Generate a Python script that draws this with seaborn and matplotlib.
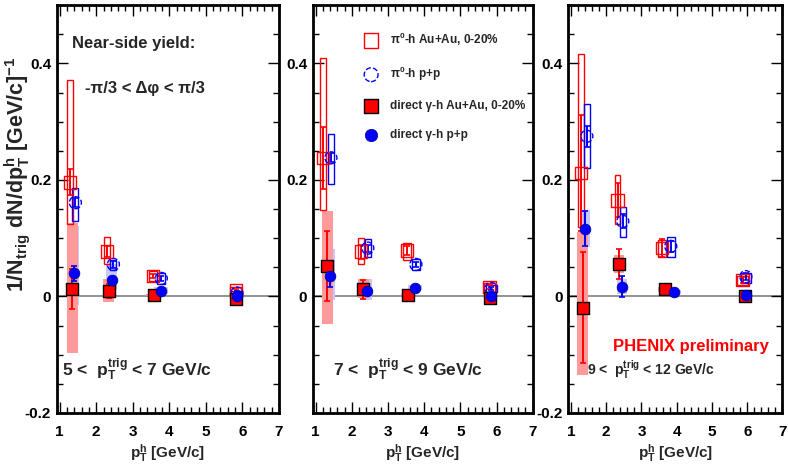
import numpy as np
import pandas as pd
import seaborn as sns
import matplotlib.pyplot as plt
from matplotlib.patches import Rectangle
from matplotlib.ticker import MultipleLocator

# pT trigger bins (one panel each)
trig_labels = [r'5 <  p$_T^{trig}$ < 7 GeV/c',
               r'7 <  p$_T^{trig}$ < 9 GeV/c',
               r'9 <  p$_T^{trig}$ < 12 GeV/c']

# pi0-h Au+Au, 0-20%
pi0_auau_x = [[1.28, 2.29, 3.55, 5.82], [1.20, 2.25, 3.53, 5.81], [1.28, 2.32, 3.59, 5.87]]
pi0_auau_y = [[0.196, 0.077, 0.035, 0.010], [0.238, 0.077, 0.079, 0.016], [0.212, 0.165, 0.083, 0.028]]
pi0_auau_err = [[0.022, 0.010, 0.004, 0.003], [0.053, 0.012, 0.008, 0.003], [0.100, 0.029, 0.015, 0.005]]
pi0_auau_sys_lo = [[0.125, 0.055, 0.026, 0.002], [0.148, 0.055, 0.062, 0.006], [0.119, 0.124, 0.067, 0.020]]
pi0_auau_sys_hi = [[0.371, 0.102, 0.044, 0.016], [0.410, 0.101, 0.092, 0.024], [0.416, 0.208, 0.097, 0.036]]

# pi0-h p+p
pi0_pp_x = [[1.43, 2.47, 3.78, 5.85], [1.42, 2.44, 3.77, 5.85], [1.45, 2.47, 3.83, 5.96]]
pi0_pp_y = [[0.161, 0.055, 0.031, 0.006], [0.238, 0.083, 0.055, 0.014], [0.275, 0.129, 0.086, 0.034]]
pi0_pp_err = [[0.008, 0.006, 0.004, 0.003], [0.008, 0.006, 0.005, 0.003], [0.018, 0.012, 0.010, 0.006]]
pi0_pp_sys_lo = [[0.129, 0.045, 0.022, 0.002], [0.193, 0.067, 0.045, 0.008], [0.220, 0.102, 0.068, 0.024]]
pi0_pp_sys_hi = [[0.187, 0.062, 0.040, 0.010], [0.279, 0.098, 0.065, 0.020], [0.331, 0.154, 0.102, 0.040]]

# direct gamma-h Au+Au, 0-20%
gam_auau_x = [[1.35, 2.34, 3.57, 5.83], [1.32, 2.31, 3.55, 5.82], [1.33, 2.36, 3.67, 5.95]]
gam_auau_y = [[0.013, 0.010, 0.002, -0.004], [0.053, 0.012, 0.002, -0.002], [-0.019, 0.056, 0.012, 0.000]]
gam_auau_err = [[0.034, 0.012, 0.004, 0.004], [0.060, 0.017, 0.004, 0.003], [0.095, 0.026, 0.003, 0.003]]
gam_auau_sys_lo = [[-0.097, -0.009, 0.000, -0.006], [-0.047, -0.003, 0.000, -0.004], [-0.135, 0.040, 0.008, -0.003]]
gam_auau_sys_hi = [[0.126, 0.030, 0.004, -0.002], [0.147, 0.030, 0.004, 0.000], [0.111, 0.071, 0.016, 0.003]]

# direct gamma-h p+p
gam_pp_x = [[1.38, 2.43, 3.77, 5.84], [1.39, 2.42, 3.75, 5.84], [1.40, 2.45, 3.92, 5.97]]
gam_pp_y = [[0.040, 0.028, 0.010, 0.001], [0.035, 0.010, 0.015, 0.000], [0.116, 0.017, 0.008, 0.002]]
gam_pp_err = [[0.013, 0.006, 0.004, 0.003], [0.019, 0.008, 0.003, 0.003], [0.030, 0.018, 0.003, 0.002]]
gam_pp_sys_lo = [[-0.015, 0.011, 0.005, -0.001], [-0.006, -0.006, 0.011, -0.002], [0.085, 0.004, 0.005, 0.000]]
gam_pp_sys_hi = [[0.121, 0.055, 0.017, 0.004], [0.081, 0.030, 0.019, 0.002], [0.149, 0.030, 0.011, 0.004]]

open_w = [0.16, 0.16, 0.22, 0.30]
fill_w = [0.30, 0.30, 0.40, 0.30]

sns.set_theme(style="ticks")
plt.rcParams['font.family'] = ['Liberation Sans', 'DejaVu Sans']
plt.rcParams['font.weight'] = 'bold'
plt.rcParams['mathtext.fontset'] = 'custom'
plt.rcParams['mathtext.rm'] = 'Liberation Sans:bold'
plt.rcParams['mathtext.bf'] = 'Liberation Sans:bold'
plt.rcParams['mathtext.it'] = 'Liberation Sans:bold'
plt.rcParams['mathtext.default'] = 'bf'

fig = plt.figure(figsize=(7.88, 4.72), dpi=100)
ax_pos = [[0.072, 0.125, 0.282, 0.864],
          [0.397, 0.125, 0.279, 0.864],
          [0.721, 0.125, 0.272, 0.864]]

series = [
    # name, x, y, err, lo, hi, kind
    (r'π$^0$-h Au+Au, 0-20%', pi0_auau_x, pi0_auau_y, pi0_auau_err, pi0_auau_sys_lo, pi0_auau_sys_hi, 'open_red'),
    (r'π$^0$-h p+p', pi0_pp_x, pi0_pp_y, pi0_pp_err, pi0_pp_sys_lo, pi0_pp_sys_hi, 'open_blue'),
    (r'direct γ-h Au+Au, 0-20%', gam_auau_x, gam_auau_y, gam_auau_err, gam_auau_sys_lo, gam_auau_sys_hi, 'fill_red'),
    (r'direct γ-h p+p', gam_pp_x, gam_pp_y, gam_pp_err, gam_pp_sys_lo, gam_pp_sys_hi, 'fill_blue'),
]

for p in range(3):
    ax = fig.add_axes(ax_pos[p])
    ax.set_xlim(0.92, 7.0)
    ax.set_ylim(-0.2, 0.5)
    ax.axhline(0, color='#808080', lw=1.2, zorder=0.5)

    for label, xs, ys, es, los, his, kind in series:
        x = np.array(xs[p]); y = np.array(ys[p]); e = np.array(es[p])
        lo = np.array(los[p]); hi = np.array(his[p])
        red = kind.endswith('red')
        col = '#ff0000' if red else '#0000ff'
        for i in range(len(x)):
            if kind.startswith('open'):
                ax.add_patch(Rectangle((x[i] - open_w[i] / 2, lo[i]), open_w[i], hi[i] - lo[i],
                                       fill=False, ec=col, lw=1.0, zorder=2))
            else:
                fc = '#ff9a9a' if red else '#c8c8ff'
                ax.add_patch(Rectangle((x[i] - fill_w[i] / 2, lo[i]), fill_w[i], hi[i] - lo[i],
                                       fc=fc, ec='none', zorder=1.2 if red else 1.0))
        ax.errorbar(x, y, yerr=e, fmt='none', ecolor=col, elinewidth=1.4,
                    capsize=2, capthick=1.2, zorder=3)
        df = pd.DataFrame({'x': x, 'y': y})
        lab = label if p == 1 else None
        if kind == 'open_red':
            sns.scatterplot(data=df, x='x', y='y', ax=ax, marker='s', s=80, facecolor='none',
                            edgecolor=col, linewidth=1.0, zorder=4, label=lab)
        elif kind == 'open_blue':
            sns.scatterplot(data=df, x='x', y='y', ax=ax, marker='o', s=75, facecolor='none',
                            edgecolor=col, linewidth=1.0, linestyle='--', zorder=4, label=lab)
        elif kind == 'fill_red':
            sns.scatterplot(data=df, x='x', y='y', ax=ax, marker='s', s=85, color=col,
                            edgecolor='black', linewidth=1.0, zorder=5, label=lab)
        else:
            sns.scatterplot(data=df, x='x', y='y', ax=ax, marker='o', s=60, color=col,
                            edgecolor='#000080', linewidth=0.5, zorder=5, label=lab)

    # ROOT-like frame and ticks
    for sp in ax.spines.values():
        sp.set_linewidth(2.0)
        sp.set_color('black')
    ax.xaxis.set_minor_locator(MultipleLocator(0.2))
    ax.yaxis.set_minor_locator(MultipleLocator(0.05))
    ax.tick_params(which='both', direction='in', top=True, right=True, width=1.0, colors='black')
    ax.tick_params(which='major', length=8, labelsize=11, pad=4)
    ax.tick_params(which='minor', length=4)
    ax.set_xticks([1, 2, 3, 4, 5, 6, 7])
    ax.set_xticklabels(['1', '2', '3', '4', '5', '6', '7'], fontweight='bold')
    ylabs = ['-0.2', '0', '0.2', '0.4']
    if p == 1:
        ylabs[0] = ''
    ax.set_yticks([-0.2, 0, 0.2, 0.4])
    ax.set_yticklabels(ylabs, fontweight='bold')
    ax.tick_params(axis='x', pad=9)
    ax.set_xlabel(r'p$_T^h$ [GeV/c]', fontsize=11, fontweight='bold', labelpad=2)
    ax.set_ylabel('')

    fs = 10 if p == 2 else 12.5
    ax.text(0.023 if p == 0 else 0.09, 0.105, trig_labels[p], transform=ax.transAxes,
            fontsize=fs, fontweight='bold', va='center', ha='left')

    if p == 0:
        ax.text(0.068, 0.907, 'Near-side yield:', transform=ax.transAxes,
                fontsize=12, fontweight='bold', va='center')
        ax.text(0.125, 0.796, '-π/3 < Δφ < π/3', transform=ax.transAxes,
                fontsize=12, fontweight='bold', va='center')
        ax.set_ylabel(r'1/N$_{trig}$ dN/dp$_T^h$ [GeV/c]$^{-1}$', fontsize=15.5,
                      fontweight='bold')
        ax.yaxis.set_label_coords(-0.112, 0.585)
    if p == 1:
        ax.legend(loc='upper left', bbox_to_anchor=(0.19, 0.95), frameon=False,
                  prop={'size': 8.5, 'weight': 'bold'}, labelspacing=1.45,
                  handletextpad=0.6, markerscale=1.15, borderaxespad=0)
    if p == 2:
        ax.text(0.21, 0.164, 'PHENIX preliminary', transform=ax.transAxes, color='#ff0000',
                fontsize=12, fontweight='bold', va='center')

plt.savefig('out.png', dpi=100)
